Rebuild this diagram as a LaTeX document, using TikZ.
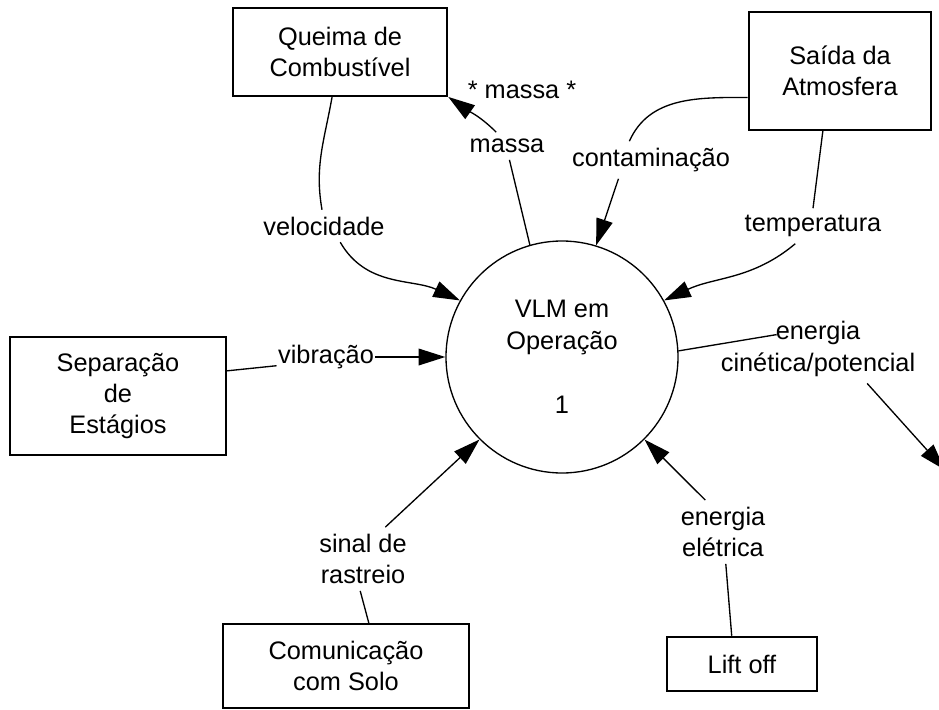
\documentclass[tikz,border=0pt]{standalone}
\usepackage{fontspec}
\setmainfont{Liberation Sans}
\usetikzlibrary{arrows.meta}
\newcommand{\dfdfont}{\fontsize{19}{23.5}\selectfont}
\tikzset{
  entity/.style={
    draw=black,
    line width=1.4pt,
    align=center,
    inner sep=0pt,
    font=\dfdfont
  },
  process/.style={
    circle,
    draw=black,
    line width=1pt,
    minimum size=174pt,
    inner sep=0pt,
    align=center,
    font=\dfdfont
  },
  lbl/.style={align=center, inner xsep=1pt, inner ysep=5pt, font=\dfdfont},
  link/.style={line width=1pt},
  flow/.style={line width=1pt, -{Triangle[length=20pt,width=12.5pt]}}
}

\begin{document}
\begin{tikzpicture}[x=0.75pt, y=-0.75pt]
        \useasboundingbox (0,0) rectangle (939,710);
        \clip (0,0) rectangle (939,710);
        \node[process] (vlm) at (562,357) {VLM em\\Operação\\[25pt]1};
        \node[entity, minimum width=161pt, minimum height=66pt] (queima) at (340,52) {Queima de\\Combustível};
        \node[entity, minimum width=137pt, minimum height=88pt] (saida) at (840,71) {Saída da\\Atmosfera};
        \node[entity, minimum width=162pt, minimum height=89pt] (separa) at (118,396) {Separação\\de\\Estágios};
        \node[entity, minimum width=185pt, minimum height=63pt] (comun) at (346,666) {Comunicação\\com Solo};
        \node[entity, minimum width=113pt, minimum height=41pt] (liftoff) at (742,664) {Lift off};
        \node[lbl] (lvel) at (324,226) {velocidade};
        \node[lbl] (lmassa) at (507,146) {massa};
        \node[lbl] (lmassa2) at (522,90) {* massa *};
        \node[lbl] (lcont) at (651,160) {contaminação};
        \node[lbl] (ltemp) at (813,226) {temperatura};
        \node[lbl] (lvib) at (326,357) {vibração};
        \node[lbl] (lcin) at (818,349) {energia\\cinética/potencial};
        \node[lbl] (lsinal) at (363,559) {sinal de\\rastreio};
        \node[lbl] (lelet) at (723,532) {energia\\elétrica};
        \coordinate (cinend) at (945,470);
        \draw[link] (queima.-100) to[out=-100,in=100] (lvel.97);
        \draw[flow] (lvel.-45) to[out=-60,in=155] (vlm.151);
        \draw[link] (vlm.106) -- (lmassa.-80);
        \draw[flow] (lmassa.128) to[out=135,in=-35] (queima.south east);
        \draw[link] (saida.196) to[out=180,in=66] (lcont.139);
        \draw[flow] (lcont.-150) -- (vlm.73);
        \draw[link] (saida.-106) -- (ltemp.north);
        \draw[flow] (ltemp.-135) to[out=-140,in=25] (vlm.29);
        \draw[link] (separa.13) -- (lvib.-170);
        \draw[flow] (lvib.east) -- (vlm.west);
        \draw[link] (vlm.3) -- ([shift={(-31pt,-15pt)}]lcin.north);
        \draw[flow] (lcin.-35) -- (cinend);
        \draw[link] (comun.62) -- (lsinal.-95);
        \draw[flow] (lsinal.55) -- (vlm.-135);
        \draw[link] (liftoff.110) -- (lelet.-85);
        \draw[flow] (lelet.119) -- (vlm.-45);
      \end{tikzpicture}
\end{document}
